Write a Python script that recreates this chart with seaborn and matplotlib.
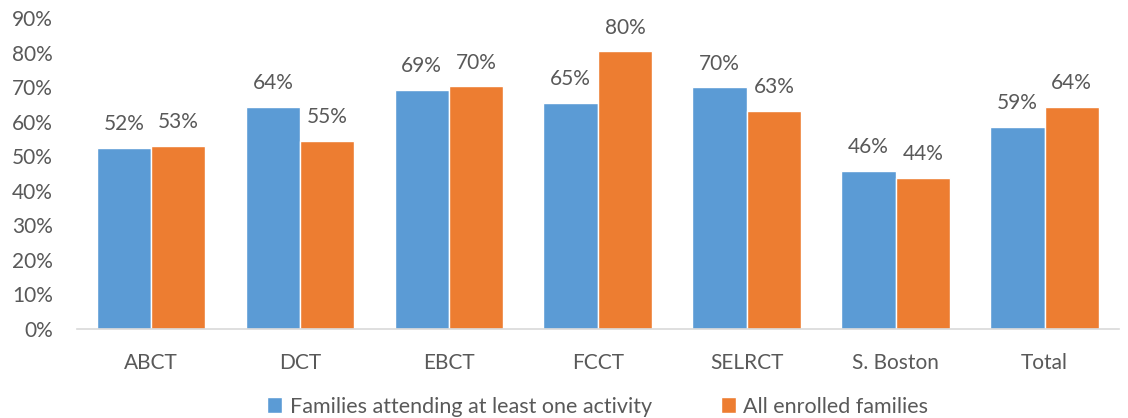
import pandas as pd
import matplotlib.pyplot as plt
import seaborn as sns

# data
sites = ['ABCT', 'DCT', 'EBCT', 'FCCT', 'SELRCT', 'S. Boston', 'Total']
attending = [52.3, 64.2, 69.1, 65.3, 69.9, 45.7, 58.4]
enrolled = [52.9, 54.3, 70.2, 80.3, 63.0, 43.6, 64.2]
attending_labels = ['52%', '64%', '69%', '65%', '70%', '46%', '59%']
enrolled_labels = ['53%', '55%', '70%', '80%', '63%', '44%', '64%']
series_names = ['Families attending at least one activity', 'All enrolled families']

df = pd.DataFrame({
    'site': sites * 2,
    'value': attending + enrolled,
    'series': [series_names[0]] * len(sites) + [series_names[1]] * len(sites),
})

sns.set_style('white')
plt.rcParams['font.family'] = ['Lato', 'DejaVu Sans']
grey = '#595959'

fig, ax = plt.subplots(figsize=(11.28, 4.18), dpi=100)
fig.subplots_adjust(left=0.068, right=0.992, top=0.957, bottom=0.213)

sns.barplot(data=df, x='site', y='value', hue='series',
            palette=['#5B9BD5', '#ED7D31'], width=0.73, gap=0,
            saturation=1, ax=ax)

# value labels
for cont, labs in zip(ax.containers, [attending_labels, enrolled_labels]):
    ax.bar_label(cont, labels=labs, padding=10, fontsize=15, color=grey)

ax.set_ylim(0, 90)
ax.set_yticks(range(0, 91, 10))
ax.set_yticklabels([f'{t}%' for t in range(0, 91, 10)])
ax.set_xlim(-0.5, len(sites) - 0.5)
ax.set_xlabel('')
ax.set_ylabel('')
ax.tick_params(axis='both', labelsize=15, colors=grey, length=0)
ax.tick_params(axis='x', pad=17)
ax.tick_params(axis='y', pad=17)

for side in ['top', 'right', 'left']:
    ax.spines[side].set_visible(False)
ax.spines['bottom'].set_color('#D9D9D9')
ax.spines['bottom'].set_linewidth(1.2)

ax.legend(loc='upper center', bbox_to_anchor=(0.5, -0.155), ncol=2,
          frameon=False, fontsize=15.5, labelcolor=grey,
          handlelength=0.7, handleheight=0.7, handletextpad=0.35,
          columnspacing=3.2)

fig.savefig('out.png', dpi=100)
